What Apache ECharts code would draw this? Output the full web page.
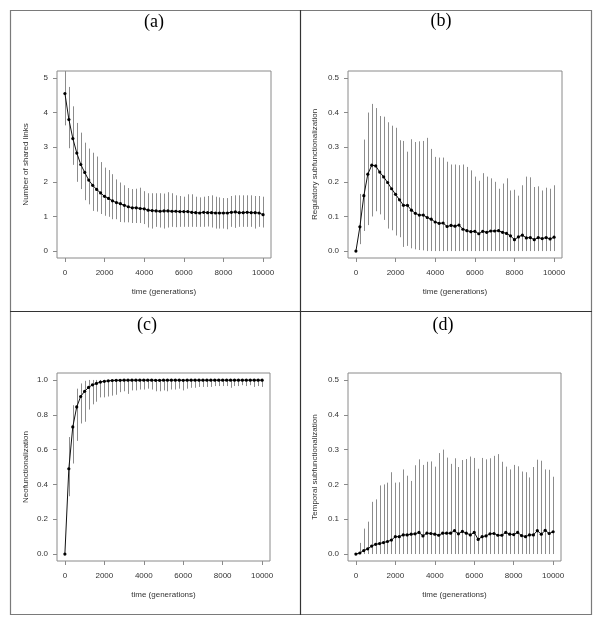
<!DOCTYPE html>
<html>
<head>
<meta charset="utf-8">
<script src="https://cdn.jsdelivr.net/npm/echarts@6/dist/echarts.min.js"></script>
<style>
html,body{margin:0;padding:0;background:#fff;}
#chart{width:600px;height:625px;}
</style>
</head>
<body>
<div id="chart"></div>
<script>
const time = [0,200,400,600,800,1000,1200,1400,1600,1800,2000,2200,2400,2600,2800,3000,3200,3400,3600,3800,4000,4200,4400,4600,4800,5000,5200,5400,5600,5800,6000,6200,6400,6600,6800,7000,7200,7400,7600,7800,8000,8200,8400,8600,8800,9000,9200,9400,9600,9800,10000];
const xTicks = [0,2000,4000,6000,8000,10000];

const panelTitles = ['(a)','(b)','(c)','(d)'];
const yTitles = ['Number of shared links','Regulatory subfunctionalization','Neofunctionalization','Temporal subfunctionalization'];
const xTitle = 'time (generations)';

const aTicks = [0,1,2,3,4,5];
const aMean = [4.55,3.80,3.25,2.83,2.50,2.27,2.05,1.90,1.78,1.68,1.58,1.52,1.45,1.40,1.37,1.32,1.28,1.25,1.25,1.23,1.22,1.18,1.17,1.16,1.15,1.16,1.16,1.15,1.15,1.14,1.14,1.14,1.12,1.11,1.10,1.12,1.11,1.11,1.10,1.10,1.10,1.10,1.12,1.13,1.11,1.11,1.12,1.11,1.11,1.10,1.05];
const aHigh = [5.40,4.74,4.18,3.70,3.42,3.13,2.96,2.84,2.73,2.57,2.41,2.34,2.22,2.07,1.98,1.90,1.82,1.79,1.80,1.83,1.73,1.67,1.67,1.67,1.67,1.66,1.70,1.67,1.61,1.59,1.57,1.64,1.64,1.57,1.55,1.57,1.59,1.61,1.57,1.55,1.53,1.53,1.59,1.61,1.61,1.61,1.61,1.61,1.59,1.59,1.57];
const aLow = [3.63,2.97,2.49,2.00,1.79,1.47,1.35,1.16,1.14,1.07,1.02,0.99,0.92,0.92,0.84,0.83,0.83,0.81,0.81,0.81,0.78,0.68,0.65,0.70,0.68,0.65,0.68,0.70,0.69,0.70,0.70,0.70,0.70,0.70,0.70,0.70,0.71,0.68,0.65,0.65,0.65,0.63,0.70,0.67,0.70,0.70,0.70,0.70,0.65,0.70,0.68];

const bTicks = [0,0.1,0.2,0.3,0.4,0.5];
const bMean = [0,0.070,0.160,0.222,0.248,0.246,0.228,0.214,0.198,0.180,0.164,0.148,0.132,0.132,0.118,0.109,0.104,0.104,0.097,0.092,0.084,0.080,0.081,0.071,0.074,0.072,0.075,0.063,0.059,0.056,0.057,0.050,0.057,0.054,0.058,0.058,0.059,0.054,0.051,0.044,0.033,0.041,0.046,0.038,0.039,0.033,0.039,0.036,0.039,0.035,0.040];
const bHigh = [0,0.165,0.322,0.400,0.425,0.413,0.390,0.388,0.372,0.362,0.356,0.320,0.318,0.287,0.323,0.315,0.317,0.318,0.327,0.295,0.272,0.270,0.270,0.258,0.250,0.250,0.248,0.250,0.243,0.233,0.215,0.203,0.225,0.215,0.210,0.200,0.180,0.195,0.210,0.175,0.177,0.160,0.190,0.215,0.213,0.185,0.187,0.175,0.183,0.180,0.190];
const bLow = [0,0.020,0.058,0.075,0.100,0.115,0.106,0.090,0.065,0.060,0.045,0.040,0.012,0.015,0.008,0.005,0.003,0.002,0,0,0,0,0,0,0,0,0,0,0,0,0,0,0,0,0,0,0,0,0,0,0,0,0,0,0,0,0,0,0,0,0];

const cTicks = [0,0.2,0.4,0.6,0.8,1.0];
const cMean = [0,0.490,0.730,0.845,0.905,0.935,0.957,0.972,0.980,0.988,0.992,0.995,0.997,0.998,0.998,0.999,0.999,0.999,0.999,0.999,0.999,0.999,0.999,0.998,0.998,0.999,0.999,0.999,0.999,0.999,0.998,0.999,0.999,0.999,0.999,0.999,0.999,0.999,0.999,0.999,0.999,0.999,0.999,0.999,0.999,0.999,0.999,0.999,0.999,0.999,0.999];
const cHigh = [0,0.672,0.855,0.950,0.980,0.995,1,1,1,1,1,1,1,1,1,1,1,1,1,1,1,1,1,1,1,1,1,1,1,1,1,1,1,1,1,1,1,1,1,1,1,1,1,1,1,1,1,1,1,1,1];
const cLow = [0,0.332,0.520,0.650,0.750,0.760,0.830,0.860,0.875,0.900,0.900,0.905,0.910,0.915,0.930,0.935,0.920,0.940,0.940,0.945,0.945,0.950,0.945,0.935,0.935,0.940,0.935,0.945,0.945,0.950,0.940,0.950,0.955,0.955,0.960,0.960,0.960,0.960,0.965,0.965,0.965,0.965,0.955,0.965,0.965,0.970,0.965,0.970,0.960,0.965,0.960];

const dTicks = [0,0.1,0.2,0.3,0.4,0.5];
const dMean = [0,0.003,0.010,0.015,0.023,0.028,0.030,0.033,0.036,0.040,0.050,0.050,0.055,0.055,0.057,0.058,0.062,0.052,0.060,0.059,0.057,0.054,0.060,0.060,0.060,0.067,0.058,0.065,0.060,0.055,0.062,0.042,0.050,0.052,0.058,0.059,0.054,0.054,0.062,0.057,0.056,0.062,0.053,0.050,0.055,0.055,0.067,0.057,0.068,0.059,0.064];
const dHigh = [0,0.032,0.073,0.093,0.150,0.157,0.197,0.200,0.205,0.235,0.205,0.206,0.243,0.225,0.210,0.255,0.272,0.256,0.265,0.266,0.251,0.290,0.300,0.277,0.259,0.275,0.250,0.270,0.273,0.280,0.276,0.245,0.276,0.272,0.275,0.282,0.287,0.265,0.251,0.243,0.256,0.252,0.237,0.235,0.220,0.250,0.271,0.268,0.243,0.242,0.222];
const dLow = [0,0,0,0,0,0,0,0,0,0,0,0,0,0,0,0,0,0,0,0,0,0,0,0,0,0,0,0,0,0,0,0,0,0,0,0,0,0,0,0,0,0,0,0,0,0,0,0,0,0,0];

const panels = [
  {mean:aMean, low:aLow, high:aHigh, ticks:aTicks, ymin:-0.2, ymax:5.2, dec:0, grid:{left:57, top:71, width:214, height:187}, title:[154,22]},
  {mean:bMean, low:bLow, high:bHigh, ticks:bTicks, ymin:-0.02, ymax:0.52, dec:1, grid:{left:348, top:71, width:214, height:187}, title:[441,21]},
  {mean:cMean, low:cLow, high:cHigh, ticks:cTicks, ymin:-0.04, ymax:1.04, dec:1, grid:{left:57, top:373, width:213, height:188}, title:[147,325]},
  {mean:dMean, low:dLow, high:dHigh, ticks:dTicks, ymin:-0.02, ymax:0.52, dec:1, grid:{left:348, top:373, width:213, height:188}, title:[443,325]}
];

const FONT = 'Liberation Sans';
const grids = [], xAxes = [], yAxes = [], series = [], graphics = [];

panels.forEach((p, i) => {
  grids.push(Object.assign({show:true, borderColor:'#8a8a8a', borderWidth:1, backgroundColor:'transparent', containLabel:false}, p.grid));
  xAxes.push({
    type:'value', gridIndex:i, min:-400, max:10400, position:'bottom',
    splitLine:{show:false}, axisLine:{show:false, onZero:false},
    axisTick:{show:true, inside:false, length:4, lineStyle:{color:'#8a8a8a'}, customValues:xTicks},
    axisLabel:{show:true, customValues:xTicks, margin:11, fontFamily:FONT, fontSize:8, color:'#333',
      formatter: v => String(v)},
    name:xTitle, nameLocation:'middle', nameGap:30,
    nameTextStyle:{fontFamily:FONT, fontSize:8, color:'#333'}
  });
  yAxes.push({
    type:'value', gridIndex:i, min:p.ymin, max:p.ymax, position:'left',
    splitLine:{show:false}, axisLine:{show:false, onZero:false},
    axisTick:{show:true, inside:false, length:4, lineStyle:{color:'#8a8a8a'}, customValues:p.ticks},
    axisLabel:{show:true, customValues:p.ticks, margin:9, fontFamily:FONT, fontSize:8, color:'#333',
      formatter: v => Number(v).toFixed(p.dec)},
    name:yTitles[i], nameLocation:'middle', nameGap: i % 2 === 0 ? 27 : 29,
    nameTextStyle:{fontFamily:FONT, fontSize:8, color:'#333'}
  });
  const barData = time.map((t, k) => [t, p.low[k], p.high[k]]);
  series.push({
    type:'custom', xAxisIndex:i, yAxisIndex:i, clip:true, silent:true, z:1,
    data: barData,
    renderItem: (params, api) => {
      const a = api.coord([api.value(0), api.value(1)]);
      const b = api.coord([api.value(0), api.value(2)]);
      const x = Math.round(a[0]) + 0.5;
      return {type:'line', shape:{x1:x, y1:a[1], x2:x, y2:b[1]}, style:{stroke:'#8c8c8c', lineWidth:1}};
    }
  });
  series.push({
    type:'line', xAxisIndex:i, yAxisIndex:i, z:3, silent:true,
    data: time.map((t, k) => [t, p.mean[k]]),
    symbol:'circle', symbolSize:3.2, showSymbol:true,
    itemStyle:{color:'#000'}, lineStyle:{color:'#111', width:1},
    animation:false
  });
  graphics.push({type:'text', x:p.title[0], y:p.title[1], style:{text:panelTitles[i], font:'18px "Liberation Serif"', fill:'#000', align:'center', verticalAlign:'middle'}});
});

graphics.push({type:'rect', shape:{x:10.5, y:10.5, width:581, height:604}, style:{fill:'none', stroke:'#7a7a7a', lineWidth:1.2}});
graphics.push({type:'line', shape:{x1:300.5, y1:10, x2:300.5, y2:615}, style:{stroke:'#333', lineWidth:1.2}});
graphics.push({type:'line', shape:{x1:10, y1:311.5, x2:592, y2:311.5}, style:{stroke:'#333', lineWidth:1.2}});

const chart = echarts.init(document.getElementById('chart'), null, {renderer:'canvas'});
chart.setOption({
  animation:false,
  backgroundColor:'#fff',
  grid: grids, xAxis: xAxes, yAxis: yAxes, series: series,
  graphic: graphics
});
</script>
</body>
</html>
